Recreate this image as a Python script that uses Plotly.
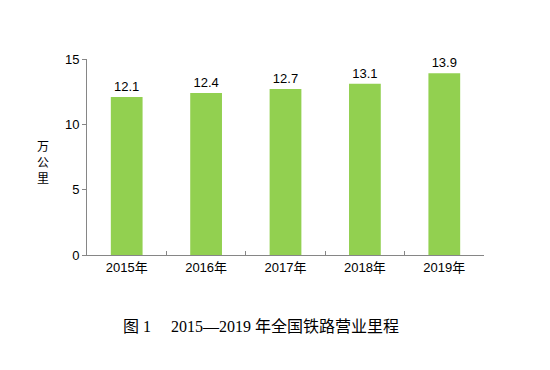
import plotly.graph_objects as go

years = ["2015年", "2016年", "2017年", "2018年", "2019年"]
mileage = [12.1, 12.4, 12.7, 13.1, 13.9]
y_ticks = [0, 5, 10, 15]
y_title_chars = ["万", "公", "里"]
caption = "图 1　 2015—2019 年全国铁路营业里程"

# page body has an 8px offset; positions below are in screen pixels
OFF = 8
W, H = 550, 370
L, R, T, B = 87 - OFF, 550 - 484 + OFF, 59 - OFF, 370 - 255 + OFF
pw, ph = W - L - R, H - T - B


def px(x):
    return (x - OFF - L) / pw


def py(y):
    return (H - B - (y - OFF)) / ph


fig = go.Figure(go.Bar(
    x=years, y=mileage, width=0.4,
    marker=dict(color="#92D050", line=dict(width=0)),
    text=[f"{v:.1f}" for v in mileage], textposition="outside",
    textfont=dict(family="Liberation Sans, Arial", size=13, color="#000"),
    cliponaxis=False,
))

annotations = []
for i, ch in enumerate(y_title_chars):
    annotations.append(dict(text=ch, x=px(43), y=py(145 + 16 * i), xref="paper", yref="paper",
                            xanchor="center", yanchor="middle", showarrow=False,
                            font=dict(size=12, family="Noto Sans CJK SC", color="#000")))
annotations.append(dict(text=caption, x=px(261), y=py(326), xref="paper", yref="paper",
                        xanchor="center", yanchor="middle", showarrow=False,
                        font=dict(size=16, family="Liberation Serif, Noto Sans CJK SC", color="#000")))

fig.update_layout(
    width=W, height=H,
    margin=dict(l=L, r=R, t=T, b=B, autoexpand=False),
    paper_bgcolor="white", plot_bgcolor="white",
    showlegend=False,
    font=dict(family="Liberation Sans, Arial, Noto Sans CJK SC", size=13, color="#000"),
    xaxis=dict(showline=True, linecolor="#868686", linewidth=1,
               ticks="inside", ticklen=4, tickcolor="#868686", tickson="boundaries",
               showgrid=False, tickfont=dict(size=13), automargin=False),
    yaxis=dict(range=[0, 15], tickvals=y_ticks, showline=True, linecolor="#868686", linewidth=1,
               ticks="outside", ticklen=4, tickcolor="#868686", showgrid=False, zeroline=False,
               tickfont=dict(size=13), automargin=False),
    annotations=annotations,
)

fig.write_html("out.html")
